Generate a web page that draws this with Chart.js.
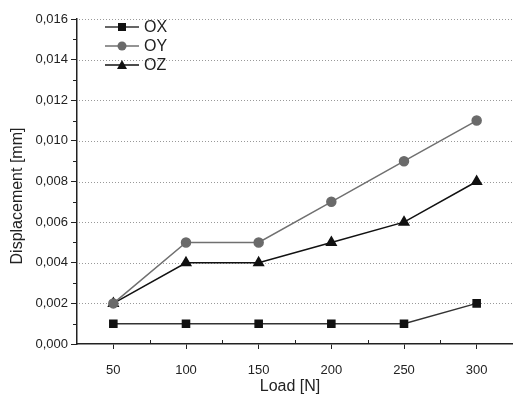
<!DOCTYPE html>
<html>
<head>
<meta charset="utf-8">
<script src="https://cdn.jsdelivr.net/npm/chart.js@4.4.0/dist/chart.umd.min.js"></script>
<style>
  html, body { margin: 0; padding: 0; background: #fff; }
  #wrap { width: 513px; height: 395px; }
</style>
</head>
<body>
<div id="wrap"><canvas id="plot"></canvas></div>
<script>
// data
var loads = [50, 100, 150, 200, 250, 300];
var ox = [0.001, 0.001, 0.001, 0.001, 0.001, 0.002];
var oy = [0.002, 0.005, 0.005, 0.007, 0.009, 0.011];
var oz = [0.002, 0.004, 0.004, 0.005, 0.006, 0.008];
var yTicks = [0, 0.002, 0.004, 0.006, 0.008, 0.010, 0.012, 0.014, 0.016];
var xTitle = 'Load [N]';
var yTitle = 'Displacement [mm]';

Chart.defaults.font.family = '"Liberation Sans", Arial, sans-serif';

function pts(vals) {
    return loads.map(function (x, i) { return { x: x, y: vals[i] }; });
}

// dotted grid, minor ticks, axis titles and the legend
var extras = {
    id: 'extras',
    beforeDatasetsDraw: function (chart) {
        var c = chart.ctx, ys = chart.scales.y, a = chart.chartArea;
        c.save();
        c.strokeStyle = '#999';
        c.lineWidth = 1;
        c.setLineDash([1, 2]);
        c.beginPath();
        for (var i = 1; i < yTicks.length; i++) {
            var py = Math.round(ys.getPixelForValue(yTicks[i])) + 0.5;
            c.moveTo(a.left + 2, py); c.lineTo(a.right, py);
        }
        c.stroke();
        c.restore();
    },
    afterDraw: function (chart) {
        var c = chart.ctx, xs = chart.scales.x, ys = chart.scales.y, a = chart.chartArea;
        c.save();
        c.strokeStyle = '#222';
        c.lineWidth = 1;
        c.beginPath();
        for (var v = 0.001; v < 0.016; v += 0.002) {
            var py = Math.round(ys.getPixelForValue(v)) + 0.5;
            c.moveTo(a.left - 4, py); c.lineTo(a.left, py);
        }
        for (var xv = 75; xv < 325; xv += 50) {
            var px = Math.round(xs.getPixelForValue(xv)) + 0.5;
            c.moveTo(px, a.bottom); c.lineTo(px, a.bottom - 4);
        }
        c.stroke();

        // axis titles
        c.fillStyle = '#222';
        c.font = '16px "Liberation Sans", Arial, sans-serif';
        c.textAlign = 'center';
        c.textBaseline = 'middle';
        c.fillText(xTitle, 290, 387);
        c.save();
        c.translate(18, 196);
        c.rotate(-Math.PI / 2);
        c.fillText(yTitle, 0, 0);
        c.restore();

        // legend
        c.textAlign = 'left';
        var items = chart.data.datasets;
        for (var k = 0; k < items.length; k++) {
            var d = items[k];
            var ly = 27 + k * 19;
            c.strokeStyle = d.borderColor;
            c.lineWidth = 1.5;
            c.beginPath();
            c.moveTo(105, ly); c.lineTo(139, ly);
            c.stroke();
            c.fillStyle = d.pointBackgroundColor;
            c.beginPath();
            if (d.pointStyle === 'rect') {
                c.rect(118, ly - 4, 8, 8);
            } else if (d.pointStyle === 'triangle') {
                c.moveTo(122, ly - 5); c.lineTo(127, ly + 4); c.lineTo(117, ly + 4); c.closePath();
            } else {
                c.arc(122, ly, 4.5, 0, Math.PI * 2);
            }
            c.fill();
            c.fillStyle = '#222';
            c.fillText(d.label, 144, ly + 1);
        }
        c.restore();
    }
};

var ctx = document.getElementById('plot').getContext('2d');
var chart = new Chart(ctx, {
    type: 'line',
    data: {
        datasets: [{
            label: 'OX',
            data: pts(ox),
            borderColor: '#333',
            pointBackgroundColor: '#111',
            pointBorderColor: '#111',
            pointStyle: 'rect',
            pointRadius: 5,
            borderWidth: 1.5
        }, {
            label: 'OY',
            data: pts(oy),
            borderColor: '#707070',
            pointBackgroundColor: '#6a6a6a',
            pointBorderColor: '#6a6a6a',
            pointStyle: 'circle',
            pointRadius: 4.5,
            borderWidth: 1.5
        }, {
            label: 'OZ',
            data: pts(oz),
            borderColor: '#111',
            pointBackgroundColor: '#111',
            pointBorderColor: '#111',
            pointStyle: 'triangle',
            pointRadius: 5.5,
            borderWidth: 1.5
        }]
    },
    options: {
        responsive: true,
        maintainAspectRatio: false,
        animation: false,
        events: [],
        layout: { autoPadding: false, padding: { top: 19, right: 0, left: 0, bottom: 0 } },
        plugins: { legend: { display: false }, tooltip: { enabled: false } },
        scales: {
            x: {
                type: 'linear',
                min: 25,
                max: 325,
                afterBuildTicks: function (s) { s.ticks = loads.map(function (v) { return { value: v }; }); },
                afterFit: function (s) { s.height = 51; s.paddingLeft = 0; s.paddingRight = 0; },
                ticks: { color: '#222', font: { size: 13 }, padding: 14, maxRotation: 0 },
                grid: { drawOnChartArea: false, tickLength: 5, tickColor: '#222' },
                border: { color: '#222', width: 1.5 }
            },
            y: {
                min: 0,
                max: 0.016,
                afterBuildTicks: function (s) { s.ticks = yTicks.map(function (v) { return { value: v }; }); },
                afterFit: function (s) { s.width = 77; },
                ticks: {
                    color: '#222', font: { size: 13 }, padding: 3,
                    callback: function (v) { return v.toFixed(3).replace('.', ','); }
                },
                grid: { drawOnChartArea: false, tickLength: 6, tickColor: '#222' },
                border: { color: '#222', width: 1.5 }
            }
        }
    },
    plugins: [extras]
});
</script>
</body>
</html>
